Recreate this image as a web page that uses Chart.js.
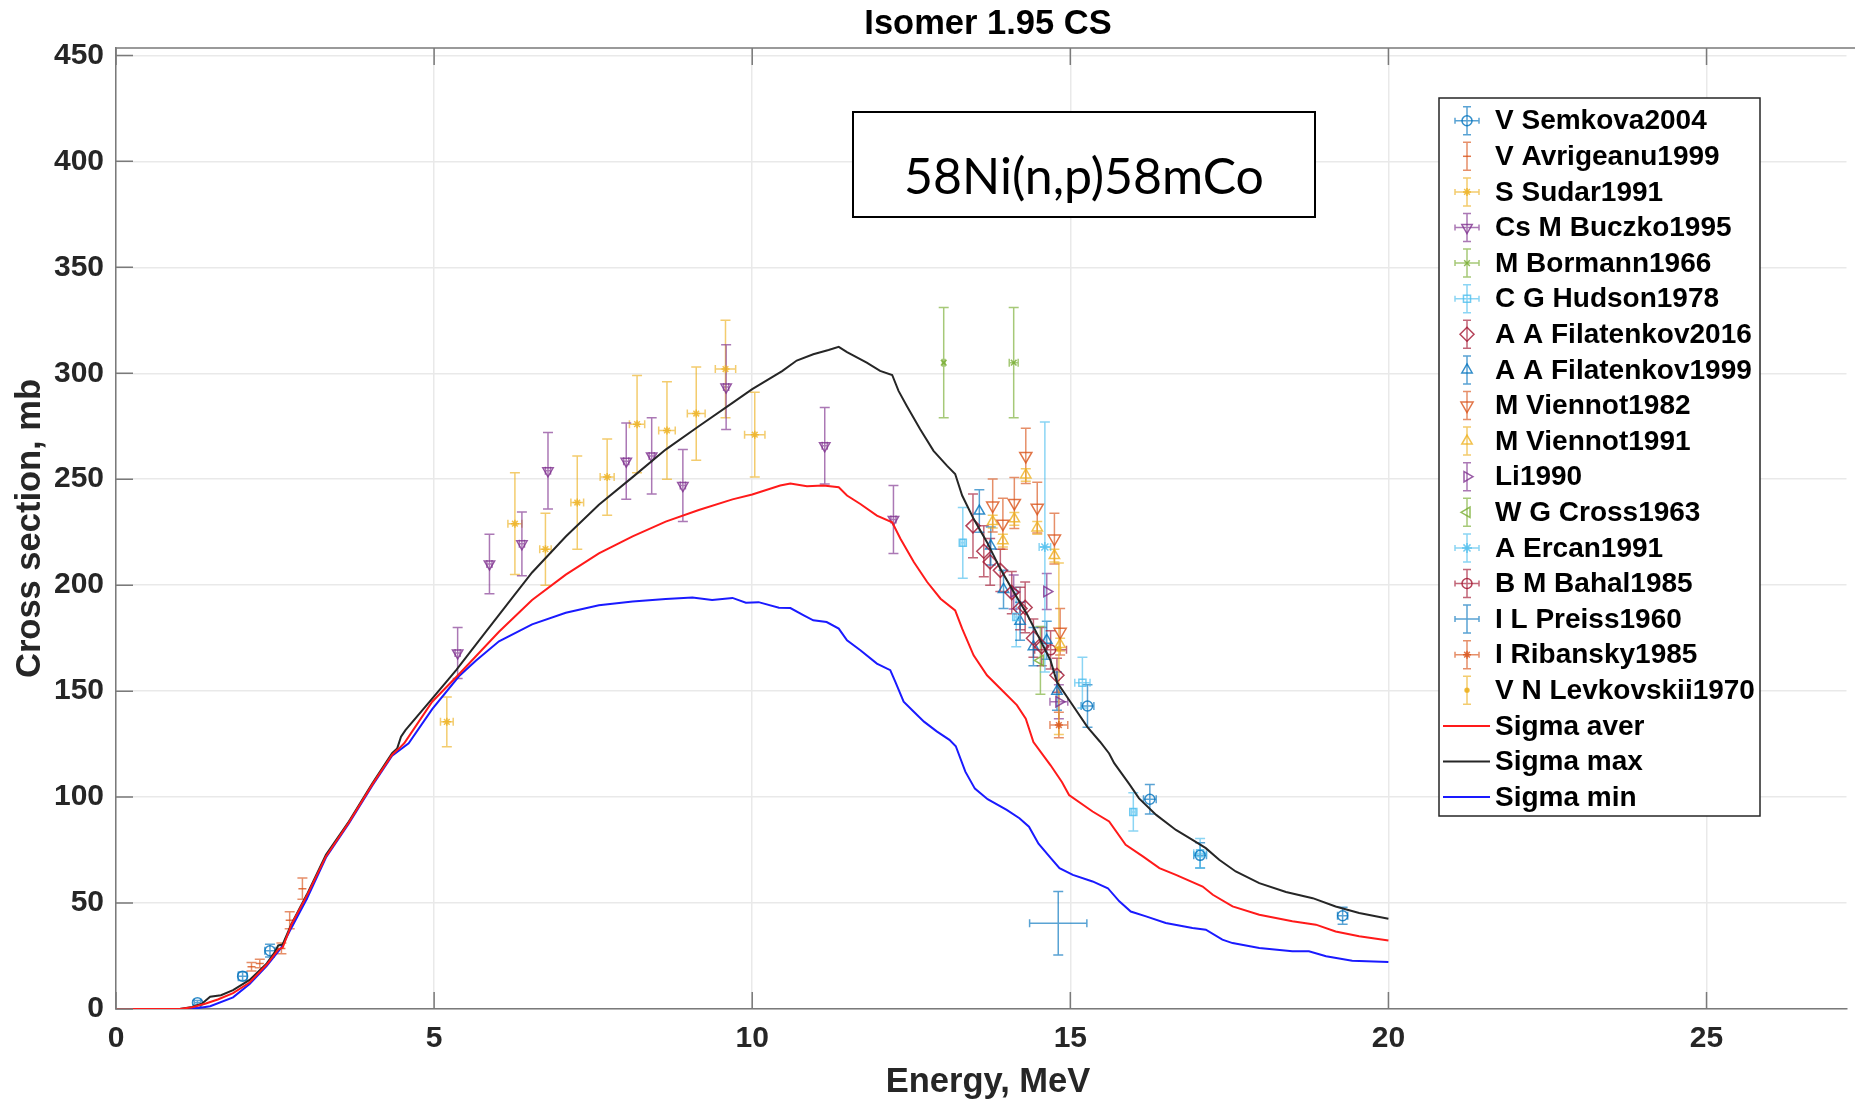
<!DOCTYPE html>
<html>
<head>
<meta charset="utf-8">
<script src="https://cdn.jsdelivr.net/npm/chart.js"></script>
<style>
  html, body { margin: 0; padding: 0; background: #fff; }
  #wrap { width: 1855px; height: 1101px; }
</style>
</head>
<body>
<div id="wrap"><canvas id="c" width="1855" height="1101"></canvas></div>
<script>
// experimental points: energy (MeV), cross section (mb), dCS, dE
const semkovaE  = [1.28, 1.99, 2.42, 15.27, 16.25, 17.04, 19.28]
const semkovaCS = [3.0, 15.5, 27.5, 143, 99, 72.5, 44]
const semkovaDY = [1.0, 2, 3, 10, 7, 6, 4]
const semkovaDX = [0.05, 0.07, 0.08, 0.1, 0.1, 0.1, 0.08]

const avrigeanuE  = [2.13, 2.26, 2.6, 2.73, 2.93]
const avrigeanuCS = [19.9, 21.5, 28.6, 41.9, 56.8]
const avrigeanuDY = [2, 2, 2.5, 4, 5]

const sudarE  = [5.2, 6.27, 6.75, 7.25, 7.72, 8.19, 8.66, 9.12, 9.58, 10.04]
const sudarCS = [135.5, 229, 217, 239, 251, 276, 273, 281, 302, 271]
const sudarDY = [11.7, 24, 17, 22, 18, 23, 23, 22, 23, 20]
const sudarDX = [0.1, 0.11, 0.09, 0.1, 0.11, 0.12, 0.13, 0.14, 0.16, 0.16]

const buczkoE  = [5.37, 5.87, 6.38, 6.79, 8.02, 8.42, 8.91, 9.59, 11.14, 12.22]
const buczkoCS = [168, 210, 219.5, 254, 258.5, 261, 247, 293.5, 265.8, 231]
const buczkoDY = [12, 14, 15, 18, 18, 18, 17, 20, 18, 16]
const buczkoDX = [0.04, 0.04, 0.04, 0.04, 0.04, 0.04, 0.04, 0.04, 0.04, 0.04]

const bormannE  = [13.01, 14.11]
const bormannCS = [305, 305]
const bormannDY = [26, 26]
const bormannDX = [0.02, 0.07]

const hudsonE  = [13.31, 14.15, 15.19, 15.99, 17.04]
const hudsonCS = [220, 185, 154, 93, 73.5]
const hudsonDY = [16.7, 14, 12, 9, 7]
const hudsonDX = [0.03, 0.03, 0.12, 0.03, 0.1]

const filat16E  = [13.47, 13.64, 13.74, 13.9, 14.08, 14.21, 14.29, 14.42, 14.55, 14.79]
const filat16CS = [228, 216, 211, 207, 196.5, 189, 189.5, 175, 171, 157.5]
const filat16DY = [15, 12, 11, 10, 10, 10, 12, 9, 9, 8]

const filat99E  = [13.57, 13.75, 13.95, 14.21, 14.42, 14.63, 14.79]
const filat99CS = [235, 218.5, 198, 183, 171, 174, 150]
const filat99DY = [10, 9, 9, 9, 9, 9, 9]

const viennot82E  = [13.78, 13.94, 14.12, 14.3, 14.48, 14.75, 14.84]
const viennot82CS = [237.6, 229, 238.8, 261, 236.6, 222, 178]
const viennot82DY = [12.5, 12, 12, 13, 12, 12, 11]

const viennot91E  = [13.78, 13.94, 14.12, 14.3, 14.48, 14.75, 14.84]
const viennot91CS = [230, 221, 231.3, 252, 227, 214, 172]
const viennot91DY = [3, 3, 3, 3, 3, 3, 3]

const liE  = [14.11, 14.63, 14.82]
const liCS = [196.8, 197, 145]
const liDY = [8, 8.5, 8]
const liDX = [0, 0, 0.14]

const crossE  = [14.53]
const crossCS = [164.5]
const crossDY = [16]

const ercanE  = [14.6]
const ercanCS = [218]
const ercanDY = [59]
const ercanDX = [0.09]

const bahalE  = [14.69]
const bahalCS = [169.5]
const bahalDY = [9]
const bahalDX = [0.25]

const preissE  = [14.81]
const preissCS = [40.5]
const preissDY = [15]
const preissDX = [0.45]

const ribanskyE  = [14.82]
const ribanskyCS = [134]
const ribanskyDY = [6]
const ribanskyDX = [0.14]

const levkovskiiE  = [14.82]
const levkovskiiCS = [170]
const levkovskiiDY = [40.5]

// evaluated curves
const maxE  = [0, 1.0, 1.2, 1.35, 1.48, 1.65, 1.84, 2.1, 2.37, 2.5, 2.55, 2.62, 2.76, 3.0, 3.3, 3.66, 4.03, 4.34, 4.42, 4.48, 4.55, 4.97, 5.35, 5.76, 6.2, 6.54, 7.07, 7.59, 8.12, 8.64, 9.16, 9.69, 10.0, 10.47, 10.7, 10.96, 11.2, 11.36, 11.49, 11.8, 12.01, 12.2, 12.3, 12.43, 12.64, 12.85, 13.06, 13.19, 13.3, 13.48, 13.69, 13.9, 14.11, 14.32, 14.48, 14.69, 14.79, 15.0, 15.27, 15.47, 15.61, 15.69, 15.93, 16.08, 16.35, 16.66, 16.92, 17.13, 17.34, 17.6, 17.97, 18.39, 18.81, 19.17, 19.54, 20.0]
const maxCS = [0, 0, 1, 2.5, 5.8, 6.5, 8.9, 13.7, 21.5, 27, 30, 30.5, 40.3, 54, 72.8, 88.5, 106.5, 120.7, 123, 128.5, 131.6, 146.5, 160, 176, 193, 206, 223, 238, 251, 264, 275, 286, 292.5, 301, 306, 309, 311, 312.5, 310, 305, 301.1, 299.2, 291.7, 284.6, 273.6, 263.4, 256.4, 252.5, 242.3, 231.3, 220.3, 207.7, 196.8, 186.3, 176.9, 164.4, 154.3, 145, 133, 126, 120.6, 116, 106, 99.4, 91.6, 84.5, 79.8, 75.9, 70.4, 64.9, 59.4, 55.2, 52.3, 48.4, 45.3, 42.6]

const averE  = [0, 1.0, 1.2, 1.4, 1.6, 1.84, 2.1, 2.37, 2.55, 2.62, 2.76, 3.0, 3.3, 3.66, 4.03, 4.34, 4.45, 4.53, 4.97, 5.39, 6.02, 6.54, 7.07, 7.59, 8.12, 8.64, 9.16, 9.69, 10.0, 10.44, 10.6, 10.86, 11.12, 11.36, 11.49, 11.7, 11.96, 12.2, 12.33, 12.54, 12.75, 12.96, 13.19, 13.3, 13.48, 13.69, 13.95, 14.16, 14.3, 14.42, 14.69, 14.87, 14.98, 15.35, 15.61, 15.87, 16.14, 16.4, 16.66, 17.08, 17.24, 17.55, 17.97, 18.49, 18.86, 19.17, 19.54, 20.0]
const averCS = [0, 0, 0.8, 2.5, 4.5, 7.5, 12.5, 21, 28, 29, 40, 53.5, 72, 88, 106, 120, 123, 125.4, 145, 158, 178, 193, 205, 215, 223, 230, 235.5, 240.5, 242.8, 247, 248, 246.7, 247, 246.2, 242.3, 238.3, 232.8, 229.7, 221.9, 210.9, 201.5, 193.6, 188.1, 179.5, 166.9, 157.5, 149.7, 143.4, 137, 126, 115, 107, 101, 93.2, 88.5, 77.5, 72, 66.5, 63.3, 57.8, 53.9, 48.4, 44.5, 41.4, 39.8, 36.6, 34.3, 32.3]

const minE  = [0, 1.1, 1.3, 1.48, 1.84, 2.1, 2.37, 2.6, 2.76, 3.0, 3.3, 3.66, 4.03, 4.34, 4.45, 4.6, 4.97, 5.39, 5.66, 6.02, 6.54, 7.07, 7.59, 8.12, 8.64, 9.06, 9.37, 9.69, 9.9, 10.1, 10.42, 10.6, 10.81, 10.96, 11.17, 11.36, 11.49, 11.7, 11.96, 12.17, 12.25, 12.38, 12.54, 12.7, 12.9, 13.1, 13.2, 13.35, 13.5, 13.7, 14.0, 14.2, 14.35, 14.5, 14.7, 14.83, 15.04, 15.35, 15.59, 15.77, 15.95, 16.19, 16.5, 16.92, 17.13, 17.39, 17.55, 17.97, 18.49, 18.75, 19.02, 19.43, 20.0]
const minCS = [0, 0, 0.5, 1.3, 5.5, 11.8, 20.4, 29, 38.5, 52, 71.5, 87.5, 105.5, 119.5, 122, 125.4, 141.5, 157, 164.5, 173.5, 181.5, 187, 190.5, 192.3, 193.5, 194.2, 193, 194, 191.7, 192, 189.4, 189.2, 185.8, 183.4, 182.6, 179.5, 174, 169.3, 163, 159.9, 154.4, 145, 140.3, 135.6, 131, 127, 124, 112, 104, 99, 94, 90, 86, 78, 71, 66.5, 63.3, 60.2, 57, 50.8, 46, 43.7, 40.6, 38.2, 37.4, 32.7, 31.1, 28.8, 27.2, 27.2, 24.9, 22.8, 22.2]

const yTicks = [0, 50, 100, 150, 200, 250, 300, 350, 400, 450]
const xTicks = [0, 5, 10, 15, 20, 25]

const BLUE = '0,114,189', ORANGE = '217,83,25', YELLOW = '237,177,32', PURPLE = '126,47,142'
const GREEN = '119,172,48', LBLUE = '77,190,238', DRED = '162,20,47'

function pts(xs, ys) {
  return xs.map((x, i) => ({x: x, y: ys[i]}))
}

function expSet(label, rgb, style, radius, rot, xs, ys, dy, dx, legendX) {
  return {
    label: label,
    data: pts(xs, ys),
    errY: dy,
    errX: dx || null,
    legendX: !!legendX,
    pointStyle: style,
    pointRadius: radius,
    pointRotation: rot,
    pointBorderColor: 'rgba(' + rgb + ',0.8)',
    pointBackgroundColor: style === 'circle' && radius <= 2.5 ? 'rgba(' + rgb + ',0.9)' : 'rgba(0,0,0,0)',
    pointBorderWidth: 1.5,
    barColor: 'rgba(' + rgb + ',0.65)',
    order: 1
  }
}

function curveSet(label, color, xs, ys) {
  return {
    label: label,
    data: pts(xs, ys),
    showLine: true,
    borderColor: color,
    borderWidth: 2,
    pointRadius: 0,
    fill: false,
    order: 0
  }
}

const datasets = [
  expSet('V Semkova2004', BLUE, 'circle', 5, 0, semkovaE, semkovaCS, semkovaDY, semkovaDX, true),
  expSet('V Avrigeanu1999', ORANGE, 'line', 4, 0, avrigeanuE, avrigeanuCS, avrigeanuDY, null, false),
  expSet('S Sudar1991', YELLOW, 'star', 4, 0, sudarE, sudarCS, sudarDY, sudarDX, true),
  expSet('Cs M Buczko1995', PURPLE, 'triangle', 6, 180, buczkoE, buczkoCS, buczkoDY, buczkoDX, true),
  expSet('M Bormann1966', GREEN, 'crossRot', 4, 0, bormannE, bormannCS, bormannDY, bormannDX, true),
  expSet('C G Hudson1978', LBLUE, 'rect', 5, 0, hudsonE, hudsonCS, hudsonDY, hudsonDX, true),
  expSet('A A Filatenkov2016', DRED, 'rectRot', 7, 0, filat16E, filat16CS, filat16DY, null, false),
  expSet('A A Filatenkov1999', BLUE, 'triangle', 6, 0, filat99E, filat99CS, filat99DY, null, false),
  expSet('M Viennot1982', ORANGE, 'triangle', 7, 180, viennot82E, viennot82CS, viennot82DY, null, false),
  expSet('M Viennot1991', YELLOW, 'triangle', 6, 0, viennot91E, viennot91CS, viennot91DY, null, false),
  expSet('Li1990', PURPLE, 'triangle', 6, 90, liE, liCS, liDY, liDX, false),
  expSet('W G Cross1963', GREEN, 'triangle', 6, -90, crossE, crossCS, crossDY, null, false),
  expSet('A Ercan1991', LBLUE, 'star', 5, 0, ercanE, ercanCS, ercanDY, ercanDX, true),
  expSet('B M Bahal1985', DRED, 'circle', 5, 0, bahalE, bahalCS, bahalDY, bahalDX, true),
  expSet('I L Preiss1960', BLUE, 'circle', 0, 0, preissE, preissCS, preissDY, preissDX, true),
  expSet('I Ribansky1985', ORANGE, 'star', 4, 0, ribanskyE, ribanskyCS, ribanskyDY, ribanskyDX, true),
  expSet('V N Levkovskii1970', YELLOW, 'circle', 2, 0, levkovskiiE, levkovskiiCS, levkovskiiDY, null, false),
  curveSet('Sigma aver', '#ff1a1a', averE, averCS),
  curveSet('Sigma max', '#262626', maxE, maxCS),
  curveSet('Sigma min', '#1a1aff', minE, minCS)
]

const AXIS = '#7a7a7a'
const GRID = '#e9e9e9'
const TXT = '#262626'

function drawMarker(ctx, ds, x, y) {
  if (!ds.pointRadius) return
  ctx.strokeStyle = ds.pointBorderColor
  ctx.fillStyle = ds.pointBackgroundColor
  ctx.lineWidth = ds.pointBorderWidth
  Chart.helpers.drawPoint(ctx, {pointStyle: ds.pointStyle, radius: ds.pointRadius, rotation: ds.pointRotation, borderWidth: ds.pointBorderWidth}, x, y)
}

const errorBars = {
  id: 'errorBars',
  beforeDatasetsDraw(chart) {
    const ctx = chart.ctx
    const xs = chart.scales.x, ys = chart.scales.y
    const a = chart.chartArea
    ctx.save()
    ctx.beginPath()
    ctx.rect(a.left, a.top, a.right - a.left, a.bottom - a.top)
    ctx.clip()
    chart.data.datasets.forEach(ds => {
      if (!ds.errY) return
      ctx.strokeStyle = ds.barColor
      ctx.lineWidth = 1.5
      ds.data.forEach((p, i) => {
        const px = xs.getPixelForValue(p.x)
        const py = ys.getPixelForValue(p.y)
        const top = ys.getPixelForValue(p.y + ds.errY[i])
        const bot = ys.getPixelForValue(p.y - ds.errY[i])
        const cap = 5
        ctx.beginPath()
        ctx.moveTo(px, top); ctx.lineTo(px, bot)
        ctx.moveTo(px - cap, top); ctx.lineTo(px + cap, top)
        ctx.moveTo(px - cap, bot); ctx.lineTo(px + cap, bot)
        const dx = ds.errX ? ds.errX[i] : 0
        if (dx > 0) {
          const l = xs.getPixelForValue(p.x - dx)
          const r = xs.getPixelForValue(p.x + dx)
          ctx.moveTo(l, py); ctx.lineTo(r, py)
          ctx.moveTo(l, py - 4); ctx.lineTo(l, py + 4)
          ctx.moveTo(r, py - 4); ctx.lineTo(r, py + 4)
        }
        ctx.stroke()
      })
    })
    ctx.restore()
  }
}

const decorations = {
  id: 'decorations',
  afterDraw(chart) {
    const ctx = chart.ctx
    const xs = chart.scales.x, ys = chart.scales.y
    const a = chart.chartArea
    ctx.save()

    // box on top + inward ticks
    ctx.strokeStyle = AXIS
    ctx.lineWidth = 1.5
    ctx.beginPath()
    ctx.moveTo(a.left, a.top); ctx.lineTo(chart.width, a.top)
    yTicks.forEach(v => {
      const y = ys.getPixelForValue(v)
      ctx.moveTo(a.left, y); ctx.lineTo(a.left + 17, y)
    })
    xTicks.forEach(v => {
      const x = xs.getPixelForValue(v)
      ctx.moveTo(x, a.bottom); ctx.lineTo(x, a.bottom - 17)
      ctx.moveTo(x, a.top); ctx.lineTo(x, a.top + 17)
    })
    ctx.stroke()

    // title and x axis label
    ctx.fillStyle = '#000'
    ctx.font = 'bold 34.5px "Liberation Sans", Arial, sans-serif'
    ctx.textAlign = 'center'
    ctx.textBaseline = 'middle'
    ctx.fillText('Isomer 1.95 CS', 988, 24.5)
    ctx.fillStyle = TXT
    ctx.fillText('Energy, MeV', 988, 1082)

    // reaction label box
    ctx.fillStyle = '#fff'
    ctx.fillRect(853, 112, 462, 105)
    ctx.strokeStyle = '#000'
    ctx.lineWidth = 2
    ctx.strokeRect(853, 112, 462, 105)
    ctx.fillStyle = '#000'
    ctx.font = '50px Lato, "Open Sans", sans-serif'
    ctx.textBaseline = 'alphabetic'
    ctx.fillText('58Ni(n,p)58mCo', 1084, 194)

    // legend
    const lx = 1439, ly = 98, lw = 321, lh = 718
    ctx.fillStyle = '#fff'
    ctx.fillRect(lx, ly, lw, lh)
    ctx.strokeStyle = '#262626'
    ctx.lineWidth = 1.5
    ctx.strokeRect(lx, ly, lw, lh)
    const mx = 1467, tx = 1495, row0 = 120.7, step = 35.6
    ctx.font = 'bold 28px "Liberation Sans", Arial, sans-serif'
    ctx.textAlign = 'left'
    ctx.textBaseline = 'middle'
    chart.data.datasets.forEach((ds, i) => {
      const y = row0 + i * step
      if (ds.errY) {
        ctx.strokeStyle = ds.barColor
        ctx.lineWidth = 1.5
        ctx.beginPath()
        ctx.moveTo(mx, y - 14); ctx.lineTo(mx, y + 14)
        ctx.moveTo(mx - 4, y - 14); ctx.lineTo(mx + 4, y - 14)
        ctx.moveTo(mx - 4, y + 14); ctx.lineTo(mx + 4, y + 14)
        if (ds.legendX) {
          ctx.moveTo(mx - 12, y); ctx.lineTo(mx + 12, y)
          ctx.moveTo(mx - 12, y - 3); ctx.lineTo(mx - 12, y + 3)
          ctx.moveTo(mx + 12, y - 3); ctx.lineTo(mx + 12, y + 3)
        }
        ctx.stroke()
        drawMarker(ctx, ds, mx, y)
      } else {
        ctx.strokeStyle = ds.borderColor
        ctx.lineWidth = 2
        ctx.beginPath()
        ctx.moveTo(1443, y); ctx.lineTo(1490, y)
        ctx.stroke()
      }
      ctx.fillStyle = '#000'
      ctx.fillText(ds.label, tx, y + 1)
    })
    ctx.restore()
  }
}

const tickFont = {family: '"Liberation Sans", Arial, sans-serif', size: 30, weight: 'bold'}
const titleFont = {family: '"Liberation Sans", Arial, sans-serif', size: 34.5, weight: 'bold', lineHeight: 1}

new Chart(document.getElementById('c'), {
  type: 'scatter',
  data: {datasets: datasets},
  options: {
    responsive: false,
    animation: false,
    devicePixelRatio: 1,
    layout: {padding: {top: 48, right: 0, bottom: 0, left: 0}},
    plugins: {legend: {display: false}, tooltip: {enabled: false}, title: {display: false}},
    scales: {
      x: {
        type: 'linear', min: 0, max: 27.2,
        ticks: {stepSize: 5, includeBounds: false, padding: 12, font: tickFont, color: TXT, maxRotation: 0},
        grid: {color: GRID, lineWidth: 1.5, drawTicks: false},
        border: {display: true, color: AXIS, width: 1.5},
        title: {display: false},
        afterFit: s => { s.height = 92 }
      },
      y: {
        type: 'linear', min: 0, max: 453.5,
        ticks: {stepSize: 50, includeBounds: false, padding: 12, font: tickFont, color: TXT},
        grid: {color: GRID, lineWidth: 1.5, drawTicks: false},
        border: {display: true, color: AXIS, width: 1.5},
        title: {display: true, text: 'Cross section, mb', font: titleFont, color: TXT, padding: {top: 13, bottom: 0}},
        afterFit: s => { s.width = 116 }
      }
    }
  },
  plugins: [errorBars, decorations]
})
</script>
</body>
</html>
